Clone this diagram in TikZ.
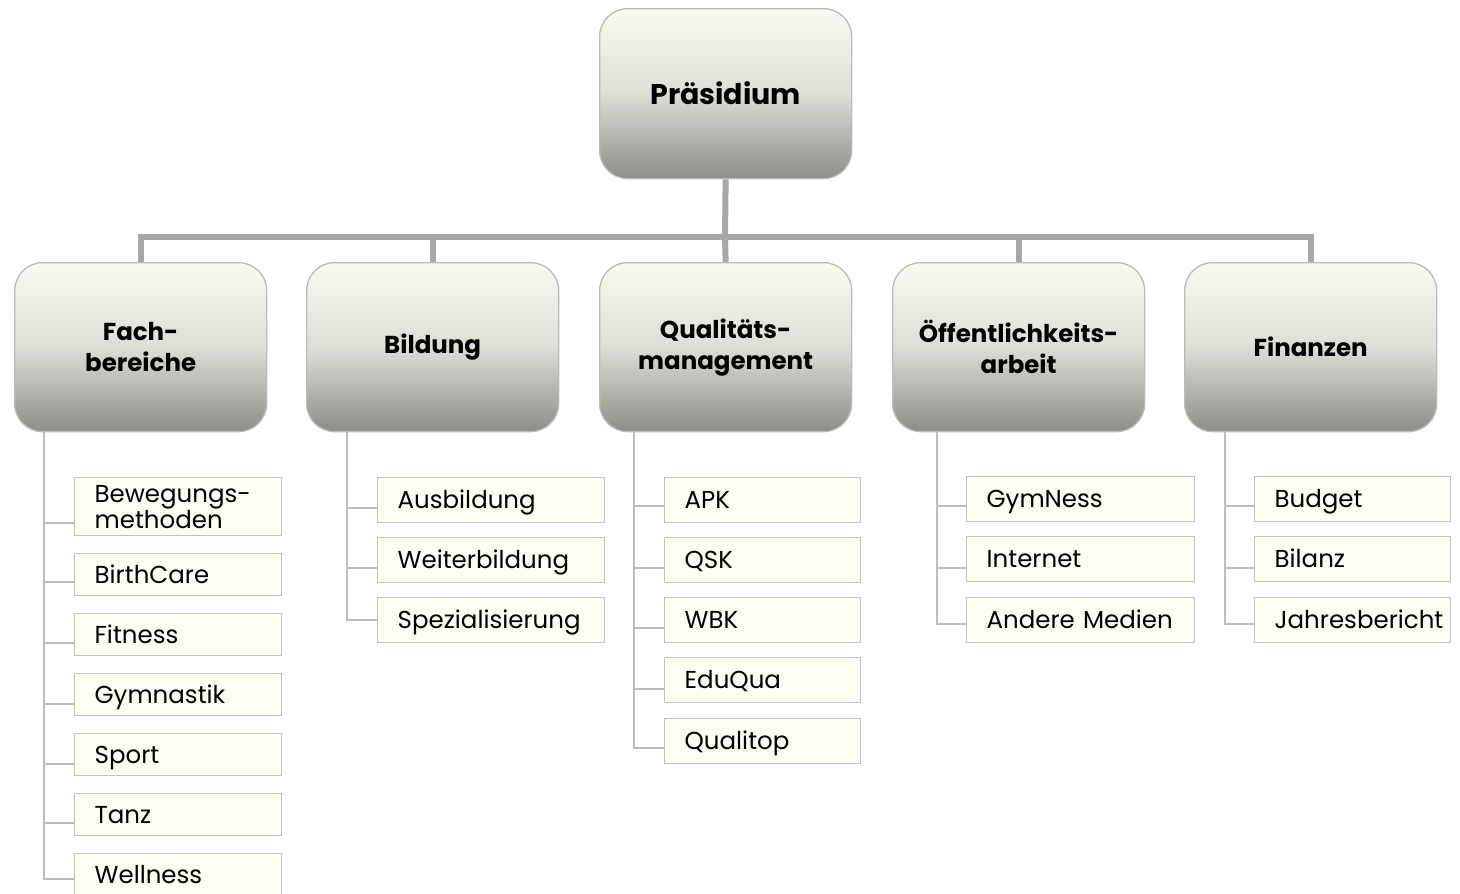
\documentclass[tikz,border=0pt]{standalone}
\usepackage{fontspec}
\setmainfont{Poppins}
\definecolor{busgray}{HTML}{A8A8A8}
\definecolor{linegray}{HTML}{BDBDBD}
\definecolor{leaffill}{HTML}{FDFDF3}
\definecolor{leafdraw}{HTML}{C2C2C2}
\definecolor{boxdraw}{HTML}{BBBBBB}
\definecolor{boxtop}{HTML}{FAFAF2}
\definecolor{boxmid}{HTML}{DEDED7}
\definecolor{boxbot}{HTML}{8D8D89}
\begin{document}
\begin{tikzpicture}[x=1pt,y=-1pt,
  headbox/.style={draw=boxdraw, line width=1.3pt, rounded corners=28pt,
    top color=boxtop, bottom color=boxbot, middle color=boxmid,
    minimum width=252pt, minimum height=169pt, anchor=north west,
    align=center, font=\bfseries\fontsize{24.5}{31}\selectfont},
  leafbase/.style={draw=leafdraw, line width=1.3pt, fill=leaffill,
    anchor=north west, inner xsep=20pt, inner ysep=0pt, align=left,
    font=\fontsize{24.5}{26}\selectfont},
  leafbox/.style={leafbase, text height=20pt, text depth=3pt},
  bus/.style={draw=busgray, line width=6pt},
  twig/.style={draw=linegray, line width=2pt}
]
\clip (0,0) rectangle (1460,894);
\fill[white] (0,0) rectangle (1460,894);

% level 1
\node[headbox, minimum height=170pt, font=\bfseries\fontsize{28.5}{31}\selectfont] (pres) at (599,8) {Präsidium};

% level 2
\node[headbox] (fach) at (14,262) {Fach-\\bereiche};
\node[headbox] (bild) at (306,262) {Bildung};
\node[headbox] (qual) at (599,262) {Qualitäts-\\management};
\node[headbox] (oeff) at (892,262) {Öffentlichkeits-\\arbeit};
\node[headbox] (fin) at (1184,262) {Finanzen};

% bus
\coordinate (busc) at (725,237);
\draw[bus] (pres.south) -- (busc) -- (qual.north);
\draw[bus, line join=miter] (fach.north) -- (fach.north |- busc) -- (fin.north |- busc) -- (fin.north);
\draw[bus] (bild.north |- busc) -- (bild.north);
\draw[bus] (oeff.north |- busc) -- (oeff.north);

% leaves Fachbereiche
\tikzset{fw/.style={text width=167pt, minimum height=42pt}}
\node[leafbase, fw, minimum height=58pt] (f1) at (74,477) {Bewegungs-\\methoden};
\node[leafbox, fw] (f2) at (74,553) {BirthCare};
\node[leafbox, fw] (f3) at (74,613) {Fitness};
\node[leafbox, fw] (f4) at (74,673) {Gymnastik};
\node[leafbox, fw] (f5) at (74,733) {Sport};
\node[leafbox, fw] (f6) at (74,793) {Tanz};
\node[leafbox, fw] (f7) at (74,853) {Wellness};

% leaves Bildung
\tikzset{bw/.style={text width=187pt, minimum height=45pt}}
\node[leafbox, bw] (b1) at (377,477) {Ausbildung};
\node[leafbox, bw] (b2) at (377,537) {Weiterbildung};
\node[leafbox, bw] (b3) at (377,597) {Spezialisierung};

% leaves Qualitaetsmanagement
\tikzset{qw/.style={text width=156pt, minimum height=45pt}}
\node[leafbox, qw] (q1) at (664,477) {APK};
\node[leafbox, qw] (q2) at (664,537) {QSK};
\node[leafbox, qw] (q3) at (664,597) {WBK};
\node[leafbox, qw] (q4) at (664,657) {EduQua};
\node[leafbox, qw] (q5) at (664,718) {Qualitop};

% leaves Oeffentlichkeitsarbeit
\tikzset{ow/.style={text width=188pt, minimum height=45pt}}
\node[leafbox, ow] (o1) at (966,476) {GymNess};
\node[leafbox, ow] (o2) at (966,536) {Internet};
\node[leafbox, ow] (o3) at (966,597) {Andere Medien};

% leaves Finanzen
\tikzset{nw/.style={text width=156pt, minimum height=45pt}}
\node[leafbox, nw] (n1) at (1254,476) {Budget};
\node[leafbox, nw] (n2) at (1254,536) {Bilanz};
\node[leafbox, nw] (n3) at (1254,597) {Jahresbericht};

% spines
\coordinate (sF) at (44,0);
\coordinate (sB) at (347,0);
\coordinate (sQ) at (634,0);
\coordinate (sO) at (937,0);
\coordinate (sN) at (1225,0);

\draw[twig] (fach.south -| sF) |- ([yshift=-16pt]f1.west);
\draw[twig] (fach.south -| sF) |- ([yshift=-7pt]f2.west);
\draw[twig] (fach.south -| sF) |- ([yshift=-8pt]f3.west);
\draw[twig] (fach.south -| sF) |- ([yshift=-9pt]f4.west);
\draw[twig] (fach.south -| sF) |- ([yshift=-9pt]f5.west);
\draw[twig] (fach.south -| sF) |- ([yshift=-8pt]f6.west);
\draw[twig] (fach.south -| sF) |- ([yshift=-4pt]f7.west);

\draw[twig] (bild.south -| sB) |- ([yshift=-7.5pt]b1.west);
\draw[twig] (bild.south -| sB) |- ([yshift=-7.5pt]b2.west);
\draw[twig] (bild.south -| sB) |- (b3.west);

\draw[twig] (qual.south -| sQ) |- ([yshift=-5.5pt]q1.west);
\draw[twig] (qual.south -| sQ) |- ([yshift=-7.5pt]q2.west);
\draw[twig] (qual.south -| sQ) |- ([yshift=-7.5pt]q3.west);
\draw[twig] (qual.south -| sQ) |- ([yshift=-8.5pt]q4.west);
\draw[twig] (qual.south -| sQ) |- ([yshift=-6.5pt]q5.west);

\draw[twig] (oeff.south -| sO) |- ([yshift=-6.5pt]o1.west);
\draw[twig] (oeff.south -| sO) |- ([yshift=-8.5pt]o2.west);
\draw[twig] (oeff.south -| sO) |- ([yshift=-3.5pt]o3.west);

\draw[twig] (fin.south -| sN) |- ([yshift=-6.5pt]n1.west);
\draw[twig] (fin.south -| sN) |- ([yshift=-8.5pt]n2.west);
\draw[twig] (fin.south -| sN) |- ([yshift=-3.5pt]n3.west);
\end{tikzpicture}
\end{document}
